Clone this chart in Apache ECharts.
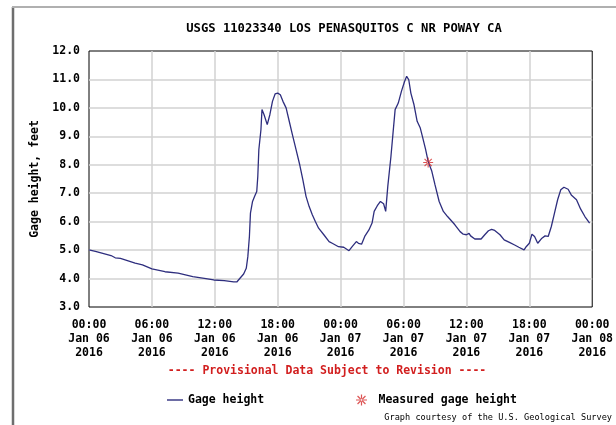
<!DOCTYPE html>
<html>
<head>
<meta charset="utf-8">
<script src="https://cdn.jsdelivr.net/npm/echarts@6/dist/echarts.min.js"></script>
<style>
html,body{margin:0;padding:0;background:#fff;}
#chart{width:616px;height:425px;}
</style>
</head>
<body>
<div id="chart"></div>
<script>
// Hours since 00:00 Jan 06 2016
var hours = [0,0.7,2.1,2.25,2.5,3.0,4.4,5.1,6,7.25,8.5,9.9,11,11.9,12.9,13.8,14.1,14.4,14.75,15,15.15,15.3,15.4,15.6,15.8,16,16.1,16.2,16.4,16.5,16.7,17.0,17.25,17.5,17.75,18.0,18.25,18.5,18.8,19.1,19.4,19.75,20.1,20.4,20.7,21,21.3,21.6,21.9,22.4,22.9,23.2,23.8,24.3,24.8,25.1,25.5,25.7,26.0,26.3,26.7,27.0,27.2,27.5,27.8,28.1,28.3,28.5,28.8,29.0,29.2,29.5,29.8,30.1,30.3,30.5,30.7,31.0,31.3,31.6,31.8,32.1,32.35,32.7,33.0,33.4,33.8,34.2,34.5,34.9,35.4,35.7,36.0,36.25,36.4,36.8,37.4,37.75,38.1,38.4,38.7,39.2,39.6,40.1,40.6,41.0,41.5,41.7,42.0,42.25,42.5,42.8,43.2,43.5,43.8,44.1,44.4,44.7,45.0,45.3,45.7,46.0,46.5,46.9,47.3,47.75];
var gageHeight = [5.01,4.95,4.81,4.84,4.73,4.71,4.54,4.48,4.34,4.24,4.19,4.07,4.01,3.95,3.93,3.88,3.88,4.01,4.16,4.36,4.77,5.48,6.30,6.71,6.89,7.06,7.59,8.53,9.23,9.94,9.76,9.41,9.76,10.23,10.49,10.52,10.46,10.23,10.0,9.53,9.06,8.53,8.0,7.47,6.89,6.53,6.24,6.0,5.77,5.54,5.30,5.24,5.12,5.10,4.98,5.12,5.30,5.24,5.21,5.48,5.71,5.95,6.36,6.56,6.71,6.63,6.36,7.24,8.29,9.12,9.94,10.17,10.58,10.93,11.11,10.99,10.52,10.11,9.53,9.29,9.0,8.55,8.12,7.77,7.30,6.71,6.36,6.18,6.06,5.89,5.65,5.56,5.54,5.59,5.50,5.39,5.39,5.54,5.68,5.73,5.69,5.54,5.36,5.27,5.18,5.10,5.01,5.12,5.24,5.56,5.48,5.24,5.42,5.50,5.48,5.83,6.30,6.77,7.12,7.21,7.14,6.94,6.77,6.44,6.18,5.95];
var measuredHours = [32.35];
var measuredHeight = [8.08];
var xTickTimes = ['00:00','06:00','12:00','18:00','00:00','06:00','12:00','18:00','00:00'];
var xTickDays = ['Jan 06','Jan 06','Jan 06','Jan 06','Jan 07','Jan 07','Jan 07','Jan 07','Jan 08'];
var xTickYears = ['2016','2016','2016','2016','2016','2016','2016','2016','2016'];

var FONT = '"DejaVu Sans Mono", "Liberation Mono", monospace';
var chart = echarts.init(document.getElementById('chart'));
var lineData = hours.map(function(h,i){return [h, gageHeight[i]];});
var measData = measuredHours.map(function(h,i){return [h, measuredHeight[i]];});
var asterisk = 'path://M-0.55,-5L0.55,-5L0.55,5L-0.55,5Z' +
  'M-5,-0.55L5,-0.55L5,0.55L-5,0.55Z' +
  'M-3.99,-3.21L3.21,3.99L3.99,3.21L-3.21,-3.99Z' +
  'M-3.21,3.99L3.99,-3.21L3.21,-3.99L-3.99,3.21Z';

chart.setOption({
  animation:false,
  backgroundColor:'#fff',
  title:{
    text:'USGS 11023340 LOS PENASQUITOS C NR POWAY CA',
    left:344, textAlign:'center', top:23, padding:0,
    textStyle:{fontFamily:FONT, fontWeight:'bold', fontSize:12.2, color:'#000'}
  },
  grid:{left:89, right:15, top:51, bottom:118, show:true, borderColor:'#000', borderWidth:1, backgroundColor:'#fff'},
  xAxis:{
    type:'value', min:0, max:48, interval:6,
    axisLine:{show:false}, axisTick:{show:false},
    splitLine:{show:true, showMinLine:false, showMaxLine:false, lineStyle:{color:'#d2d2d2', width:1.5}},
    axisLabel:{
      margin:11, fontFamily:FONT, fontWeight:'bold', fontSize:11.5, color:'#000', lineHeight:14,
      showMaxLabel:true, alignMaxLabel:'center', alignMinLabel:'center',
      formatter:function(v){var i=Math.round(v/6);return xTickTimes[i]+'\n'+xTickDays[i]+'\n'+xTickYears[i];}
    }
  },
  yAxis:{
    type:'value', min:3, max:12, interval:1,
    name:'Gage height, feet', nameLocation:'middle', nameRotate:90, nameGap:42,
    nameTextStyle:{fontFamily:FONT, fontWeight:'bold', fontSize:11.5, color:'#000'},
    axisLine:{show:false}, axisTick:{show:false},
    splitLine:{show:true, showMinLine:false, showMaxLine:false, lineStyle:{color:'#d2d2d2', width:1.5}},
    axisLabel:{margin:9, fontFamily:FONT, fontWeight:'bold', fontSize:11.5, color:'#000',
      formatter:function(v){return v.toFixed(1);}}
  },
  legend:[{
    data:[{name:'Gage height', icon:'path://M0,0L16,0L16,1.4L0,1.4Z'}],
    left:167, top:394, padding:0, itemWidth:16, itemHeight:2,
    textStyle:{fontFamily:FONT, fontWeight:'bold', fontSize:11.5, color:'#000'}
  },{
    data:[{name:'Measured gage height', icon:asterisk, itemStyle:{color:'#d42a2a'}}],
    left:356, top:394, padding:0, itemWidth:24, itemHeight:11,
    textStyle:{fontFamily:FONT, fontWeight:'bold', fontSize:11.5, color:'#000'}
  }],
  graphic:[
    {type:'line', shape:{x1:13, y1:7, x2:13, y2:425}, style:{stroke:'#6e6e6e', lineWidth:2.5}, silent:true},
    {type:'line', shape:{x1:12, y1:7, x2:616, y2:7}, style:{stroke:'#b0b0b0', lineWidth:2}, silent:true},
    {type:'text', style:{x:327, y:371, text:'---- Provisional Data Subject to Revision ----', fill:'#d21f1f',
      font:'bold 11.5px '+FONT, textAlign:'center', textVerticalAlign:'middle'}, silent:true},
    {type:'text', style:{x:612, y:418, text:'Graph courtesy of the U.S. Geological Survey', fill:'#000',
      font:'8.6px '+FONT, textAlign:'right', textVerticalAlign:'middle'}, silent:true}
  ],
  series:[{
    name:'Gage height', type:'line', data:lineData, symbol:'none',
    lineStyle:{color:'#2e2e7e', width:1.3}, itemStyle:{color:'#2e2e7e'}
  },{
    name:'Measured gage height', type:'scatter', data:measData, symbol:asterisk, symbolSize:10,
    itemStyle:{color:'#d42a2a'}, z:5
  }]
});
</script>
</body>
</html>
